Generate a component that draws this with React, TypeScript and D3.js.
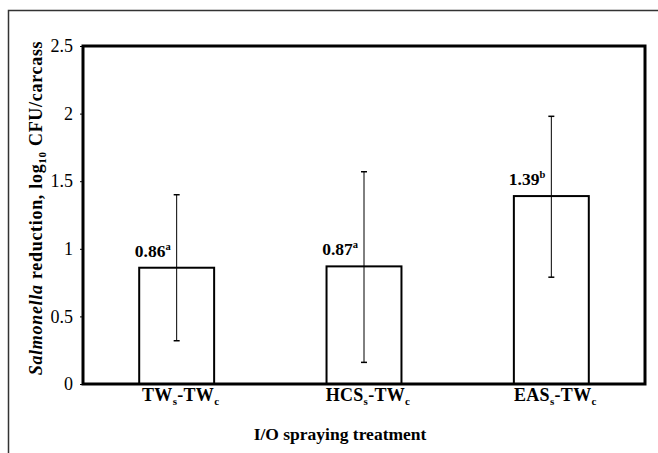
import React, { useRef, useEffect } from "react";
import * as d3 from "d3";

// treatment groups (main text + subscript parts)
const categories = ["TW_s-TW_c", "HCS_s-TW_c", "EAS_s-TW_c"];
const means = [0.86, 0.87, 1.39];
const errLow = [0.32, 0.16, 0.79];
const errHigh = [1.40, 1.57, 1.98];
const letters = ["a", "a", "b"];
const yTicks = [0, 0.5, 1, 1.5, 2, 2.5];

const W = 658;
const H = 453;
const margin = { top: 46, right: 13, bottom: 69, left: 83 };

// split "TW_s-TW_c" into [text, sub, text, sub]
const parseLabel = (s: string) => {
  const parts: { t: string; sub: boolean }[] = [];
  const re = /([^_]+?)_(.)/g;
  let m;
  let last = 0;
  while ((m = re.exec(s)) !== null) {
    parts.push({ t: m[1], sub: false });
    parts.push({ t: m[2], sub: true });
    last = re.lastIndex;
  }
  if (last < s.length) parts.push({ t: s.slice(last), sub: false });
  return parts;
};

const App = () => {
  const ref = useRef<SVGSVGElement>(null);

  useEffect(() => {
    const svg = d3.select(ref.current);
    svg.selectAll("*").remove();

    const x0 = margin.left;
    const x1 = W - margin.right;
    const y0 = H - margin.bottom;
    const y1 = margin.top;

    const x = d3.scaleBand()
      .domain(categories)
      .range([x0, x1])
      .paddingInner(0.6)
      .paddingOuter(0.3);

    const y = d3.scaleLinear().domain([0, 2.5]).range([y0, y1]);

    const serif = "'Liberation Serif', 'Times New Roman', serif";

    // outer frame (runs off the page at right/bottom)
    svg.append("rect")
      .attr("x", 8.5).attr("y", 10.5)
      .attr("width", 700).attr("height", 500)
      .attr("fill", "none")
      .attr("stroke", "#333")
      .attr("stroke-width", 1.5);

    // bars
    svg.selectAll(".bar")
      .data(categories)
      .enter().append("rect")
      .attr("class", "bar")
      .attr("x", d => x(d))
      .attr("width", x.bandwidth())
      .attr("y", (d, i) => y(means[i]))
      .attr("height", (d, i) => y0 - y(means[i]))
      .attr("fill", "#fff")
      .attr("stroke", "#000")
      .attr("stroke-width", 2);

    // error bars
    const cx = (d: string) => x(d) + x.bandwidth() / 2;
    const eb = svg.append("g").attr("stroke", "#000").attr("stroke-width", 1);
    categories.forEach((c, i) => {
      eb.append("line")
        .attr("x1", cx(c)).attr("x2", cx(c))
        .attr("y1", y(errLow[i])).attr("y2", y(errHigh[i]));
      [errLow[i], errHigh[i]].forEach(v => {
        eb.append("line")
          .attr("x1", cx(c) - 3).attr("x2", cx(c) + 3)
          .attr("y1", y(v)).attr("y2", y(v))
          .attr("stroke-width", 1.5);
      });
    });

    // value labels
    categories.forEach((c, i) => {
      const t = svg.append("text")
        .attr("x", cx(c) - 6)
        .attr("y", y(means[i]) - 11)
        .attr("text-anchor", "end")
        .attr("font-family", serif)
        .attr("font-weight", "bold")
        .attr("font-size", 17.5);
      t.append("tspan").text(means[i].toFixed(2));
      t.append("tspan")
        .attr("font-size", 10.5)
        .attr("dy", -7)
        .text(letters[i]);
    });

    // plot frame
    svg.append("rect")
      .attr("x", x0).attr("y", y1)
      .attr("width", x1 - x0).attr("height", y0 - y1)
      .attr("fill", "none")
      .attr("stroke", "#000")
      .attr("stroke-width", 3);

    // y axis
    const yAxis = svg.append("g")
      .attr("transform", `translate(${x0},0)`)
      .call(d3.axisLeft(y).tickValues(yTicks).tickSize(3).tickPadding(7)
        .tickFormat(d => String(d)));
    yAxis.select(".domain").remove();
    yAxis.selectAll("text")
      .attr("font-family", serif)
      .attr("font-size", 18)
      .attr("fill", "#000");

    // category labels
    categories.forEach(c => {
      const t = svg.append("text")
        .attr("x", cx(c) + 4)
        .attr("y", y0 + 17)
        .attr("text-anchor", "middle")
        .attr("font-family", serif)
        .attr("font-weight", "bold")
        .attr("font-size", 18)
        .attr("letter-spacing", 0.3);
      parseLabel(c).forEach((p, k, arr) => {
        const s = t.append("tspan").text(p.t);
        if (p.sub) s.attr("font-size", 11).attr("dy", 4);
        else if (k > 0 && arr[k - 1].sub) s.attr("dy", -4);
      });
    });

    // x title
    svg.append("text")
      .attr("x", 340)
      .attr("y", y0 + 56)
      .attr("text-anchor", "middle")
      .attr("font-family", serif)
      .attr("font-weight", "bold")
      .attr("font-size", 17.5)
      .text("I/O spraying treatment");

    // y title
    const yt = svg.append("text")
      .attr("transform", `translate(42,${(y0 + y1) / 2 - 7}) rotate(-90)`)
      .attr("text-anchor", "middle")
      .attr("font-family", serif)
      .attr("font-weight", "bold")
      .attr("font-size", 18)
      .attr("letter-spacing", 0.7);
    yt.append("tspan").attr("font-style", "italic").text("Salmonella");
    yt.append("tspan").text("  reduction, log");
    yt.append("tspan").attr("font-size", 11).attr("dy", 4).text("10");
    yt.append("tspan").attr("dy", -4).text(" CFU/carcass");
  }, []);

  return (
    <svg ref={ref} width={W} height={H}
      style={{ position: "absolute", left: 0, top: 0, background: "#fff" }} />
  );
};

export default App;
